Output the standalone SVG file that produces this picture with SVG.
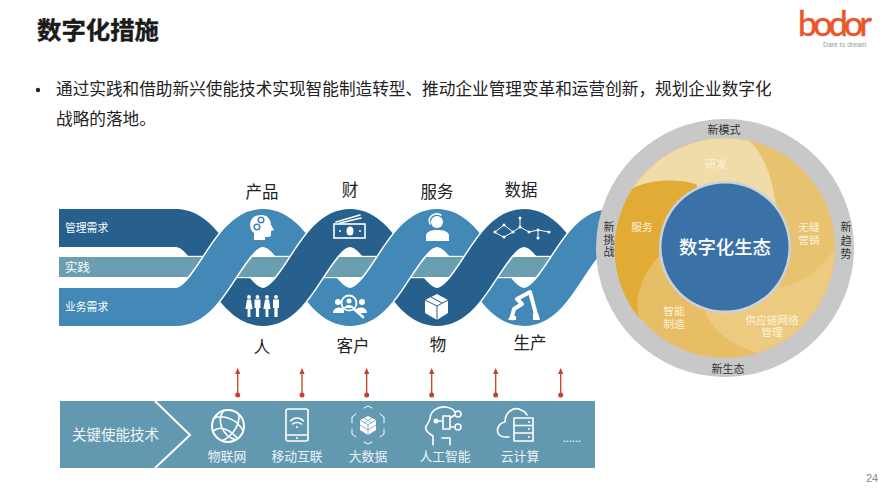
<svg xmlns="http://www.w3.org/2000/svg" width="889" height="500" viewBox="0 0 889 500">
<style>
text{font-family:"Noto Sans CJK SC","Noto Sans",sans-serif}
.m{text-anchor:middle}
.lab{font-size:16.5px;fill:#222;text-anchor:middle}
.band{fill:none;stroke-width:38;stroke-linecap:butt}
.case{fill:none;stroke:#fff;stroke-width:41}
.d{stroke:#27608C}.l{stroke:#4289B8}
.wt{fill:#fff}
.ws{fill:none;stroke:#fff;stroke-width:1.6;stroke-linecap:round;stroke-linejoin:round}
.pt{font-size:10.7px;fill:#FBF3DC;text-anchor:middle}
.gt{font-size:11px;fill:#333;text-anchor:middle}
.bt{font-size:12.8px;fill:#EAF3F6;text-anchor:middle}
.ar{stroke:#C8402A;stroke-width:1.3;fill:none;marker-start:url(#dot);marker-end:url(#tip)}
</style>
<defs>
<marker id="tip" markerWidth="6" markerHeight="6" refX="1" refY="3" orient="auto" markerUnits="userSpaceOnUse" viewBox="0 0 6 6"><path d="M0,0.4L6,3L0,5.6Z" fill="#C8402A"/></marker>
<marker id="dot" markerWidth="6" markerHeight="6" refX="3" refY="3" markerUnits="userSpaceOnUse"><circle cx="3" cy="3" r="2.5" fill="#C8402A"/></marker>
<g id="man"><circle cx="0" cy="-9" r="1.9" fill="#fff"/><path d="M-3,-6.5H3V2H1.6V11H-1.6V2H-3Z" fill="#fff"/></g>
<g id="wom"><circle cx="0" cy="-9" r="1.9" fill="#fff"/><path d="M-2,-6.5H2L3.6,3H1.4V11H-1.4V3H-3.6Z" fill="#fff"/></g>
</defs>
<rect width="889" height="500" fill="#fff"/>

<g id="title"><text x="37" y="39" font-size="24.4" font-weight="700" fill="#1a1a1a" stroke="#1a1a1a" stroke-width=".4">数字化措施</text></g>
<g id="logo">
<text x="798" y="36" font-size="34" fill="#E8562A" stroke="#E8562A" stroke-width=".5" textLength="74" lengthAdjust="spacing" style="font-family:Lato,sans-serif">bodor</text>
<text x="823" y="46.500" font-size="6.800" fill="#9a9a9a" style="font-family:'Liberation Sans',sans-serif">Dare to dream</text>
</g>
<g id="body">
<circle cx="38" cy="90" r="2.2" fill="#222"/>
<text x="56" y="95" font-size="16.65" fill="#222">通过实践和借助新兴使能技术实现智能制造转型、推动企业管理变革和运营创新，规划企业数字化</text>
<text x="56" y="125" font-size="16.65" fill="#222">战略的落地。</text>
</g>

<g id="helix">
<path class="band d" d="M59,228H176C212,228 227,307 263,307"/>
<path class="band l" d="M263,228C299,228 314,307 350,307"/>
<path class="band d" d="M350,228C386,228 401,307 437,307"/>
<path class="band l" d="M437,228C473,228 488,307 524,307"/>
<path class="band d" d="M524,228C542,228 554.750,247.750 567.500,267.500"/>
<rect x="59" y="255.800" width="500" height="22.400" fill="#fff"/>
<rect x="59" y="257" width="500" height="20" fill="#6A9FB1"/>
<path class="case" d="M176,307C212,307 227,228 263,228"/><path class="band l" d="M59,307H176C212,307 227,228 263,228"/>
<path class="case" d="M263,307C299,307 314,228 350,228"/><path class="band d" d="M263,307C299,307 314,228 350,228"/>
<path class="case" d="M350,307C386,307 401,228 437,228"/><path class="band l" d="M350,307C386,307 401,228 437,228"/>
<path class="case" d="M437,307C473,307 488,228 524,228"/><path class="band d" d="M437,307C473,307 488,228 524,228"/>
<path class="case" d="M524,307C560,307 575,228 611,228"/><path class="band l" d="M524,307C560,307 575,228 611,228H630"/>
<text x="65" y="232" font-size="10.8" fill="#fff">管理需求</text>
<text x="65" y="272" font-size="12.5" fill="#fff">实践</text>
<text x="65" y="311" font-size="10.8" fill="#fff">业务需求</text>
</g>

<g id="icon-product">
<path class="wt" d="M254,240V233C248,229 248,215 261,215C268,215 271,220 271,225L274,230L271,231V235C271,237 268,237 265,237V240Z"/>
<circle cx="261" cy="220" r="2.800" fill="none" stroke="#4289B8" stroke-width="1.600"/><circle cx="257" cy="227" r="2.800" fill="none" stroke="#4289B8" stroke-width="1.600"/>
</g>
<g id="icon-finance">
<path class="ws" d="M336,222L360,215M340,223L361,218"/>
<rect x="334" y="224" width="31" height="14" fill="#27608C" stroke="#fff" stroke-width="1.600"/>
<ellipse cx="350" cy="231" rx="3.500" ry="4.500" class="wt"/><circle cx="340" cy="231" r="1" class="wt"/><circle cx="360" cy="231" r="1" class="wt"/>
</g>
<g id="icon-service">
<circle cx="437" cy="222" r="6" class="wt"/>
<path d="M430,224C427,216 435,212 441,215" class="ws"/>
<path class="wt" d="M426,241V236C426,231 432,230 437,230C443,230 449,231 449,236V241Z"/>
</g>
<g id="icon-data">
<path class="ws" style="stroke-width:1" d="M495,232L504,225L513,232L504,237ZM513,232L520,227L529,232L538,230L549,232M520,218V227M538,230V238"/>
<g class="wt"><circle cx="495" cy="232" r="1.500"/><circle cx="504" cy="225" r="1.500"/><circle cx="513" cy="232" r="1.500"/><circle cx="504" cy="237" r="1.500"/><circle cx="520" cy="218" r="1.500"/><circle cx="520" cy="227" r="1.500"/><circle cx="529" cy="232" r="1.500"/><circle cx="538" cy="230" r="1.500"/><circle cx="549" cy="232" r="1.500"/><circle cx="538" cy="238" r="1.500"/></g>
</g>
<g id="icon-people">
<use href="#wom" x="249" y="306"/><use href="#man" x="257.500" y="306"/><use href="#wom" x="267" y="306"/><use href="#man" x="276" y="306"/>
</g>
<g id="icon-client">
<circle cx="338" cy="302" r="3" class="wt"/><circle cx="362" cy="302" r="3" class="wt"/>
<path class="wt" d="M333,313C333,307 343,306 344,310V313ZM356,310C358,306 367,307 367,313H358Z"/>
<circle cx="349" cy="303" r="7.500" fill="#4289B8" stroke="#fff" stroke-width="1.800"/>
<circle cx="349" cy="301" r="2.500" class="wt"/><path class="wt" d="M344,308C345,304 353,304 354,308Z"/>
<path d="M354,309L363,317" stroke="#fff" stroke-width="2.600" stroke-linecap="round"/>
</g>
<g id="icon-goods">
<path class="wt" d="M437,294L448,300V313L437,320L425,313V300Z"/>
<path d="M425,300L437,306L448,300M437,306V320M431,297L442,303" fill="none" stroke="#27608C" stroke-width="1"/>
</g>
<g id="icon-robot">
<path d="M511,320L514,309L522,304L517,299L530,292L537,318" fill="none" stroke="#fff" stroke-width="4" stroke-linejoin="round"/>
<path class="wt" d="M508,320H516V316H510ZM533,320H540L538,313H533Z"/>
</g>

<g id="labels-top">
<text class="lab" x="262" y="198">产品</text><text class="lab" x="350" y="196">财</text><text class="lab" x="437" y="198">服务</text><text class="lab" x="521" y="196">数据</text>
<text class="lab" x="262" y="353">人</text><text class="lab" x="353" y="352">客户</text><text class="lab" x="438" y="351">物</text><text class="lab" x="530" y="349">生产</text>
</g>

<g id="ecosystem">
<circle cx="725" cy="248" r="129" fill="#C8C8C8"/>
<circle cx="725" cy="248" r="110" fill="#E7BE66"/>
<path fill="#EFDCA8" d="M633,188A110,110 0 0 1 749.500,141C765,155 773,180 776,205L725,248Z"/>
<path fill="#E8C36F" d="M749.500,141A110,110 0 0 1 835,248C820,270 805,282 782,287L725,248L776,205C773,180 765,155 749.500,141Z"/>
<path fill="#ECCB80" d="M835,248A110,110 0 0 1 757,353C735,345 715,335 705,312L725,248L782,287C805,282 820,270 835,248Z"/>
<path fill="#E2AB35" d="M633,188C650,180 675,178 696,184L725,248L662,253C640,275 634,300 639,318A110,110 0 0 1 633,188Z"/>
<circle cx="725" cy="247" r="66" fill="#C9D3DC"/>
<circle cx="725" cy="247" r="63.500" fill="#3A72A8"/>
<text x="725" y="253.500" class="m" font-size="18.400" font-weight="500" fill="#fff">数字化生态</text>
<text class="gt" x="724" y="134">新模式</text><text class="gt" x="728" y="373">新生态</text>
<text class="gt"><tspan x="609" y="231">新</tspan><tspan x="609" y="244">挑</tspan><tspan x="609" y="256">战</tspan></text>
<text class="gt"><tspan x="846" y="231">新</tspan><tspan x="846" y="245">趋</tspan><tspan x="846" y="258">势</tspan></text>
<text class="pt" x="716" y="168">研发</text><text class="pt" x="642" y="231">服务</text>
<text class="pt"><tspan x="809" y="231">无缝</tspan><tspan x="809" y="244">营销</tspan></text>
<text class="pt"><tspan x="674" y="315">智能</tspan><tspan x="674" y="328">制造</tspan></text>
<text class="pt"><tspan x="772" y="324">供应链网络</tspan><tspan x="772" y="336">管理</tspan></text>
</g>

<g id="tech-bar">
<rect x="60" y="401" width="535" height="67" fill="#6399B0"/>
<path d="M155,401L190,435L155,468" fill="none" stroke="#fff" stroke-width="2"/>
<text x="72" y="440" font-size="14.500" fill="#F0F6F8">关键使能技术</text>
<text class="bt" x="227" y="461">物联网</text><text class="bt" x="297" y="461">移动互联</text><text class="bt" x="368" y="461">大数据</text><text class="bt" x="445" y="461">人工智能</text><text class="bt" x="520" y="461">云计算</text>
<text class="bt" x="572" y="442" style="font-size:11px">......</text>
</g>
<g id="icon-iot">
<circle cx="228" cy="426" r="16" fill="none" stroke="#fff" stroke-width="2"/>
<path fill="none" stroke="#fff" stroke-width="1.600" d="M214,418C224,414 238,420 243,431M213,431C222,424 232,432 238,439M224,410C216,420 222,436 236,440M239,414C240,426 232,436 222,441"/>
</g>
<g id="icon-mobile">
<rect x="286" y="409" width="22" height="32" rx="2" class="ws"/>
<path class="ws" d="M286,435H308M290.500,421C294,417 300,417 303.500,421M292.500,424C295,422 299,422 301.500,424"/><circle cx="297" cy="427" r="1" class="wt"/><circle cx="297" cy="438" r="1" class="wt"/>
</g>
<g id="icon-bigdata">
<path class="ws" style="stroke-width:1" d="M364,408L368,406L372,408M380,414L384,417V423M384,429V434L380,437M372,442L368,444L364,442M356,437L352,434V429M352,423V417L356,414"/>
<path class="wt" d="M368,416L376,420V430L368,435L360,430V420Z"/>
<path d="M360,420L368,425L376,420M368,425V435M364,418L372,423M372,418L364,423M360,425L368,430L376,425" fill="none" stroke="#6399B0" stroke-width=".7"/>
</g>
<g id="icon-ai">
<path class="ws" d="M433,445V436C426,432 424,428 427,425L430,419C430,411 438,406 446,407C451,408 454,410 455,412M450,445V438H442"/>
<path class="ws" d="M436,421H443"/>
<circle cx="436" cy="421" r="2.500" class="wt"/>
<rect x="443" y="416" width="7" height="13" class="ws"/>
<path class="ws" d="M450,418L455,415M450,427L455,427"/>
<circle cx="458" cy="414" r="3" class="ws"/><circle cx="458" cy="427" r="3" class="ws"/>
</g>
<g id="icon-cloud">
<path class="ws" d="M509,437H505C494,437 496,423 505,422C505,412 514,406 521,410C524,411 526,413 527,415"/>
<rect x="514" y="418" width="19" height="23" class="ws"/>
<path class="ws" d="M514,425.500H533M514,433H533"/>
<circle cx="529" cy="422" r="1" class="wt"/><circle cx="529" cy="429" r="1" class="wt"/><circle cx="529" cy="437" r="1" class="wt"/>
</g>

<g id="connectors">
<path class="ar" d="M237.700,395V373"/><path class="ar" d="M302,395V373"/><path class="ar" d="M366.700,395V373"/><path class="ar" d="M431.700,395V373"/><path class="ar" d="M495.700,395V373"/><path class="ar" d="M560.700,395V373"/>
</g>
<g id="page"><text x="866" y="482" font-size="11" fill="#8a8a8a" style="font-family:'Liberation Sans',sans-serif">24</text></g>
</svg>
